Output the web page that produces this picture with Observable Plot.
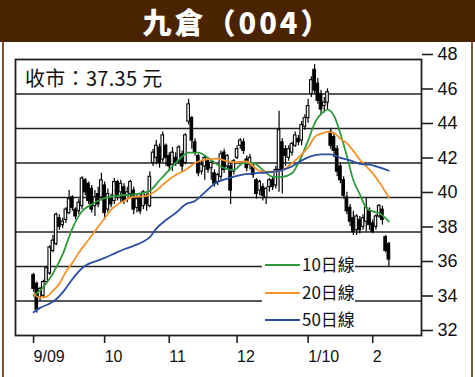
<!DOCTYPE html>
<html><head><meta charset="utf-8">
<script src="https://cdn.jsdelivr.net/npm/d3@7"></script>
<script src="https://cdn.jsdelivr.net/npm/@observablehq/plot@0.6"></script>
<style>
html,body{margin:0;padding:0;background:#fff;}
#wrap{position:relative;width:475px;height:377px;overflow:hidden;background:#fff;font-family:"Noto Sans CJK TC","Noto Sans",sans-serif;}
#head{position:absolute;left:0;top:0;width:475px;height:42px;background:#4a2300;color:#fff;text-align:center;font-family:"Noto Sans CJK TC",sans-serif;font-weight:900;font-size:29px;line-height:42px;letter-spacing:3px;}
#chart{position:absolute;left:0;top:42px;}
.bl{position:absolute;top:42px;width:2px;height:335px;background:#7a5533;}
#close{position:absolute;left:25px;top:63px;font-size:20px;color:#111;font-family:"Noto Sans CJK TC",sans-serif;letter-spacing:0.3px;}
#legend{position:absolute;left:262px;top:249px;width:93px;height:81px;background:#fff;}
.lg{position:absolute;left:3px;height:20px;width:92px;}
.lg span.sw{position:absolute;left:0;top:10px;width:35px;height:2px;}
.lg span.tx{position:absolute;left:37px;top:-3px;font-size:17px;color:#111;white-space:nowrap;font-family:"Noto Sans CJK TC",sans-serif;}
</style></head>
<body>
<div id="wrap">
  <div id="head">九倉（004）</div>
  <div id="chart"></div>
  <div class="bl" style="left:2px"></div>
  <div class="bl" style="left:471px"></div>
  <div id="close">收市：37.35 元</div>
  <div id="legend"></div>
</div>
<script>
// Daily OHLC (trading-day index 0 = 1 Sep 2009)
const open = [35.5,35.0,34.2,34.3,35.1,35.6,36.9,37.3,38.8,38.4,38.7,39.1,40.0,39.3,39.2,39.5,41.0,40.8,40.5,39.5,40.2,40.0,
40.7,39.3,40.0,39.8,40.9,40.3,40.6,39.9,40.2,40.4,39.4,39.9,39.5,40.1,39.5,42.0,42.3,42.9,42.2,43.0,
42.4,41.9,42.3,42.1,42.5,42.0,44.4,44.6,43.2,42.4,41.5,41.8,42.1,41.7,41.4,40.9,41.2,42.6,41.8,41.8,41.5,
42.3,43.0,43.2,42.2,41.9,41.8,41.0,40.4,40.6,40.0,40.6,41.0,40.7,41.6,43.2,42.8,42.3,42.6,43.0,43.4,43.3,44.1,
44.6,46.0,47.4,46.6,46.0,45.3,45.5,43.8,43.5,42.8,41.8,41.0,40.0,39.4,38.8,38.1,38.7,38.3,38.6,39.2,
38.5,38.3,38.9,39.3,37.7,37.3];
const close = [34.7,33.5,34.7,35.1,35.9,37.1,37.5,39.0,38.3,38.6,39.3,39.9,39.4,38.9,39.7,41.1,40.3,39.8,39.3,40.0,39.6,41.0,
39.1,40.2,39.6,40.9,40.1,40.8,39.8,40.3,40.9,39.3,39.9,39.2,40.3,39.6,41.2,42.6,43.0,42.0,43.6,42.3,
41.8,42.6,42.0,42.9,41.8,43.6,45.4,43.3,42.6,41.4,41.9,42.3,41.6,42.0,40.8,41.3,42.5,41.6,42.4,40.4,42.1,
42.8,43.3,42.7,41.7,42.3,41.3,40.2,40.9,40.1,40.5,41.0,40.6,41.6,43.9,41.6,42.4,42.8,43.1,43.6,43.2,44.2,44.6,
45.3,46.8,46.2,45.6,45.1,45.5,46.1,43.0,42.7,41.5,41.0,40.1,39.2,38.6,38.0,38.9,38.1,38.8,39.4,38.4,
38.0,38.9,39.5,38.7,36.9,36.4];
const high = [35.6,35.1,34.8,35.2,36.0,37.2,37.8,39.1,39.0,38.8,39.4,40.4,40.1,39.4,39.9,41.2,41.1,40.9,40.7,40.4,40.6,41.4,
40.9,40.5,40.2,41.1,41.0,41.0,40.8,40.6,41.0,40.6,40.2,40.2,40.4,40.2,41.5,42.8,43.3,43.1,43.8,43.1,
42.6,42.9,42.6,43.0,42.7,43.7,45.7,44.7,43.4,42.5,42.1,42.4,42.3,42.2,41.6,41.4,42.7,42.8,42.5,42.0,42.2,
43.0,43.4,43.4,42.4,42.5,42.0,41.1,41.0,40.8,40.6,41.1,41.2,41.8,45.0,43.4,43.0,43.0,43.2,43.8,43.6,44.4,44.8,
45.7,47.0,47.7,46.9,46.2,45.8,46.3,44.0,43.7,43.0,42.0,41.2,40.3,39.6,39.2,39.0,38.9,39.0,40.0,39.4,
38.7,39.0,39.6,39.5,37.8,37.4];
const low = [34.5,33.3,34.0,34.2,35.0,35.5,36.8,37.2,38.1,38.2,38.5,39.0,39.2,38.7,39.0,39.3,40.1,39.6,39.1,38.9,39.4,39.8,
38.7,39.1,39.4,39.6,39.8,39.7,39.6,39.7,40.0,39.0,39.1,39.0,39.3,39.2,39.4,41.8,41.9,41.7,42.0,41.8,
41.5,41.5,41.8,41.9,41.5,41.9,44.2,42.8,42.4,41.2,41.3,41.0,41.4,41.0,40.6,40.7,41.0,41.4,41.6,39.6,41.3,
42.2,42.8,42.5,41.5,41.6,41.1,39.9,40.1,39.8,39.6,40.3,40.4,40.5,40.3,40.2,41.8,42.1,42.4,42.9,43.0,43.0,43.9,
44.3,45.8,46.0,45.4,44.8,44.9,45.1,42.8,42.3,41.2,40.8,39.9,39.0,38.3,37.8,37.8,37.9,38.1,38.0,38.1,
37.9,38.1,38.8,38.4,36.8,36.0];

// Moving averages (index, value)
const ma10Idx = [0,3,6,9,12,15,18,21,26,32,36,39,42,45,48,51,54,57,60,62,65,68,71,74,77,80,82,85,87,90,91,93,95,97,99,101,103,105,107,110];
const ma10 = [34.3,34.8,35.6,36.7,38.2,39.2,39.6,39.9,40.1,40.2,40.4,41.0,41.6,42.2,42.6,42.6,42.3,41.9,41.65,41.6,42.0,42.0,41.6,41.2,41.2,41.4,42.0,43.3,44.3,45.0,45.1,44.75,43.7,42.4,41.0,40.2,39.4,39.2,39.1,38.6];
const ma20Idx = [0,2,4,6,8,10,12,14,16,18,20,22,24,26,28,30,35,38,41,44,47,50,53,57,60,63,66,68,70,72,75,78,81,83,85,87,89,91,93,95,97,99,101,103,105,107,110];
const ma20 = [34.4,34.2,34.25,34.6,35.0,35.7,36.2,36.8,37.3,37.8,38.3,38.8,39.3,39.6,39.8,40.0,40.1,40.4,40.9,41.3,41.6,42.0,42.2,42.25,42.1,42.05,42.1,41.8,41.55,41.5,41.5,41.7,42.15,42.5,42.9,43.5,43.7,43.8,43.75,43.4,43.15,42.7,42.2,41.8,41.4,40.9,40.0];
const ma50Idx = [0,2,5,7,9,11,13,15,17,20,22,25,28,31,34,36,38,41,44,47,50,53,56,60,64,68,72,76,80,83,86,89,92,95,98,101,104,107,110];
const ma50 = [33.35,33.6,33.85,34.1,34.5,35.0,35.5,35.9,36.15,36.35,36.5,36.75,37.0,37.2,37.45,37.7,38.2,38.7,39.1,39.6,39.8,40.3,40.8,41.1,41.3,41.4,41.45,41.55,41.8,42.15,42.4,42.5,42.5,42.3,42.15,41.95,41.9,41.75,41.55];

// Axis ticks
const monthIdx = [0,22,42,63,85,105];
const monthLabels = ["9/09","10","11","12","1/10","2"];
const yTicks = [32,34,36,38,40,42,44,46,48];

const series = [
  {name:"10日線", color:"#2e9a3c", idx:ma10Idx, val:ma10},
  {name:"20日線", color:"#f5922a", idx:ma20Idx, val:ma20},
  {name:"50日線", color:"#2b4ea6", idx:ma50Idx, val:ma50}
];

const candles = open.map((o,i)=>({i, open:o, close:close[i], high:high[i], low:low[i]}));
const lines = series.flatMap(s => s.idx.map((d,k)=>({name:s.name, color:s.color, i:d, v:s.val[k]})));

const chart = Plot.plot({
  width: 475, height: 335,
  marginLeft: 15, marginRight: 54, marginTop: 17, marginBottom: 42,
  style: {fontFamily: "'Liberation Sans', sans-serif", background: "transparent", color: "#111"},
  x: {type: "linear", domain: [-5.6, 120.1]},
  y: {domain: [32, 48]},
  marks: [
    Plot.ruleY(yTicks.slice(1,-1), {stroke: "#222", strokeWidth: 1.6}),
    Plot.ruleX(candles, {x: "i", y1: "low", y2: "high", stroke: "#000", strokeWidth: 1.2}),
    Plot.rectY(candles, {x1: d => d.i - 0.4, x2: d => d.i + 0.4, y1: "open", y2: "close",
      fill: d => d.close >= d.open ? "#fff" : "#000", stroke: "#000", strokeWidth: 1.1}),
    Plot.line(lines, {x: "i", y: "v", z: "name", stroke: "color", strokeWidth: 1.8, curve: "monotone-x"}),
    Plot.frame({stroke: "#222", strokeWidth: 1.8}),
    Plot.axisY({anchor: "right", ticks: yTicks, tickSize: 11, tickPadding: 5, fontSize: 18, dy: -5, label: null, stroke: "#222", strokeWidth: 1.6}),
    Plot.axisX({anchor: "bottom", ticks: monthIdx, tickFormat: d => monthLabels[monthIdx.indexOf(d)],
      tickSize: 8, tickPadding: 7, fontSize: 16, textAnchor: "start", label: null, stroke: "#222", strokeWidth: 1.6})
  ]
});
document.getElementById("chart").appendChild(chart);

const lg = document.getElementById("legend");
series.forEach((s, k) => {
  const row = document.createElement("div");
  row.className = "lg";
  row.style.top = (5 + k * 27.5) + "px";
  row.innerHTML = `<span class="sw" style="background:${s.color}"></span><span class="tx">${s.name}</span>`;
  lg.appendChild(row);
});
</script>
</body></html>
